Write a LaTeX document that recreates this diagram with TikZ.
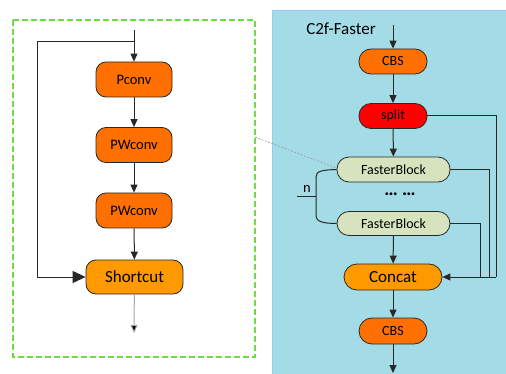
\documentclass[tikz,border=0pt]{standalone}
\usepackage{fontspec}
\setmainfont{Carlito}
\usetikzlibrary{arrows.meta}
\definecolor{dorange}{RGB}{255,112,0}
\definecolor{lorange}{RGB}{255,153,0}
\definecolor{sred}{RGB}{255,0,0}
\definecolor{fbgreen}{RGB}{214,227,190}
\definecolor{panelblue}{RGB}{163,220,231}
\definecolor{panelborder}{RGB}{140,210,240}
\definecolor{dgreen}{RGB}{110,220,70}
\definecolor{linec}{RGB}{40,40,40}
\tikzset{
  blk/.style={draw=linec, line width=0.8pt, text=black, align=center, inner sep=0pt},
  lbox/.style={blk, fill=dorange, minimum width=76pt, minimum height=35pt, rounded corners=10pt, font=\fontsize{14.5}{16}\selectfont},
  rbox/.style={blk, minimum width=68pt, minimum height=25pt, rounded corners=12pt, font=\fontsize{14}{15}\selectfont},
  conn/.style={draw=linec, line width=1pt},
  arr/.style={conn, -{Triangle[width=7pt,length=8pt]}},
}
\begin{document}
\begin{tikzpicture}[x=1pt,y=-1pt]
\useasboundingbox (0,0) rectangle (506,374);
% right panel
\fill[panelblue] (272,10) rectangle (506,374);
\draw[panelborder, line width=0.8pt] (272,374) -- (272,10) -- (506,10);
% left dashed box
\draw[draw=dgreen, line width=1.3pt, dash pattern=on 6pt off 3pt] (13,20) rectangle (255,357);

% left flow
\node[lbox] (pconv) at (134,79.5) {Pconv};
\node[lbox] (pw1) at (134,145) {PWconv};
\node[lbox] (pw2) at (134,210.5) {PWconv};
\node[lbox, fill=lorange, minimum width=97pt, minimum height=34pt, font=\fontsize{17}{18}\selectfont] (short) at (134.5,277) {Shortcut};
\coordinate (lin) at (134,30);
\coordinate (lbr) at (134,42);
\coordinate (lout) at (134,333);
\draw[arr] (lin) -- (pconv);
\draw[arr] (pconv) -- (pw1);
\draw[arr] (pw1) -- (pw2);
\draw[arr] (pw2) -- (short);
\draw[arr, -{Triangle[width=12pt,length=13pt]}] (lbr) -- (37,42) -- (37,277) -- (short.west);
\draw[draw=gray!70, line width=1pt, -{Triangle[width=7pt,length=8pt,fill=black]}] (short) -- (lout);

% right flow
\node[font=\fontsize{17}{18}\selectfont, text=black] (title) at (341,29) {C2f-Faster};
\node[rbox, fill=dorange] (cbs1) at (393,61.5) {CBS};
\node[rbox, fill=sred] (split) at (393,116) {split};
\node[rbox, fill=fbgreen, minimum width=113pt] (fb1) at (393.5,169.5) {FasterBlock};
\node[text=black, font=\fontsize{19}{20}\selectfont\bfseries] (dots) at (400,194) {… …};
\node[rbox, fill=fbgreen, minimum width=113pt, minimum height=24pt] (fb2) at (393.5,223.5) {FasterBlock};
\node[rbox, fill=lorange, minimum width=98pt, minimum height=26pt, rounded corners=13pt, font=\fontsize{17}{18}\selectfont] (concat) at (393,277) {Concat};
\node[rbox, fill=dorange, minimum height=26pt, rounded corners=13pt] (cbs2) at (393,331) {CBS};
\coordinate (rin) at (393,25);
\coordinate (rout) at (393,373);
\draw[arr] (rin) -- (cbs1);
\draw[arr] (cbs1) -- (split);
\draw[arr] (split) -- (fb1);
\draw[arr] (fb2) -- (concat);
\draw[arr] (concat) -- (cbs2);
\draw[arr] (cbs2) -- (rout);
\coordinate (j1) at (496,277);
\draw[conn] (split.east) -- (496,116) -- (j1);
\draw[conn] (fb1.east) -- (489,169.5) -- (489,277);
\draw[conn] (fb2.east) -- (480,223.5) -- (480,277);
\draw[arr] (j1) -- (concat.east);
% n bracket
\draw[conn] (fb1.west) .. controls (322,170) and (316,171) .. (316,177) -- (316,216) .. controls (316,221) and (322,223.5) .. (fb2.west);
\coordinate (nl) at (297,197);
\coordinate (nr) at (316,197);
\draw[conn] (nl) -- (nr);
\node[font=\fontsize{14.5}{16}\selectfont, text=black] (nlab) at (307,189) {n};
% dashed link
\coordinate (dl) at (255,137);
\coordinate (dr) at (336,168);
\draw[gray!80, line width=0.6pt, dash pattern=on 2pt off 1.5pt] (dl) -- (dr);
\end{tikzpicture}
\end{document}
